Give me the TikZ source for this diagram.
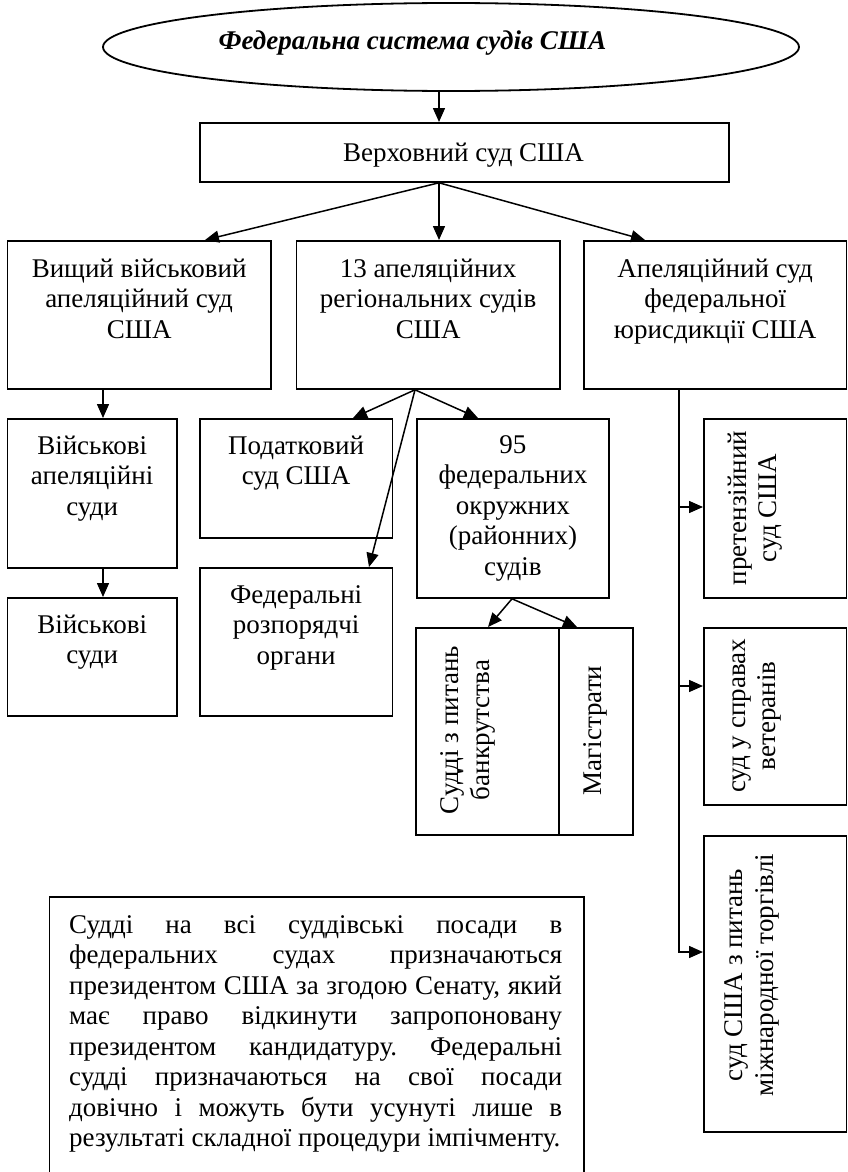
\documentclass[tikz,border=0pt]{standalone}
\usepackage{fontspec}
\setmainfont{Liberation Serif}
\usetikzlibrary{arrows.meta,shapes.geometric,calc}
\frenchspacing
\newcommand\bodysize{\fontsize{27}{30.5}\selectfont}
\newcommand\topstrut{\rule{0pt}{26pt}}
\newcommand\jline[1]{\makebox[493pt][s]{#1}}
\begin{document}
\begin{tikzpicture}[x=1pt,y=-1pt,
  box/.style={draw, line width=1.8pt, rectangle, inner sep=0pt, anchor=north west},
  link/.style={line width=1.5pt},
  arr/.style={link, -{Triangle[length=14pt,width=12pt]}},
  txt/.style={font=\bodysize, align=center, inner sep=0pt, anchor=north},
  vtxt/.style={font=\bodysize, align=center, inner sep=0pt, rotate=90},
]
\useasboundingbox (0,0) rectangle (847,1172);

% title
\node[draw, ellipse, line width=1.8pt, minimum width=696pt, minimum height=88pt, inner sep=0pt] (fed) at (451,47) {};
\node[font=\fontsize{27}{30.5}\selectfont\bfseries\itshape, anchor=base, inner sep=0pt] (fedtxt) at (412.5,50) {Федеральна система судів США};

% supreme court
\node[box, minimum width=529pt, minimum height=59pt] (sup) at (199,122) {};
\node[font=\bodysize, anchor=base, inner sep=0pt] (suptxt) at (463.5,161) {Верховний суд США};

% appellate level
\node[box, minimum width=263.5pt, minimum height=148pt] (A) at (6.5,240) {};
\node[box, minimum width=263.5pt, minimum height=148pt] (B) at (295.5,240) {};
\node[box, minimum width=262.5pt, minimum height=148pt] (C) at (583,240) {};
\node[txt] (Atxt) at ($(A.north)+(0,11)$) {\topstrut Вищий військовий\\апеляційний суд\\США};
\node[txt] (Btxt) at ($(B.north)+(0,11)$) {\topstrut 13 апеляційних\\регіональних судів\\США};
\node[txt] (Ctxt) at ($(C.north)+(0,11)$) {\topstrut Апеляційний суд\\федеральної\\юрисдикції США};

% military branch
\node[box, minimum width=169.5pt, minimum height=149pt] (A2) at (6.5,418) {};
\node[box, minimum width=169.5pt, minimum height=118pt] (A3) at (6.5,597) {};
\node[txt] (A2txt) at ($(A2.north)+(0,10)$) {\topstrut Військові\\апеляційні\\суди};
\node[txt] (A3txt) at ($(A3.north)+(0,10)$) {\topstrut Військові\\суди};

% regional branch
\node[box, minimum width=192.5pt, minimum height=119pt] (B2) at (199,418) {};
\node[box, minimum width=192.5pt, minimum height=148pt] (B3) at (199,567) {};
\node[box, minimum width=192pt, minimum height=179pt] (B4) at (416,418) {};
\node[txt] (B2txt) at ($(B2.north)+(0,10)$) {\topstrut Податковий\\суд США};
\node[txt] (B3txt) at ($(B3.north)+(0,10)$) {\topstrut Федеральні\\розпорядчі\\органи};
\node[txt] (B4txt) at ($(B4.north)+(0,9)$) {\topstrut 95\\федеральних\\окружних\\(районних)\\судів};

\node[box, minimum width=143pt, minimum height=207pt] (J) at (415,627) {};
\node[box, minimum width=74pt, minimum height=207pt] (M) at (558,627) {};
\node[vtxt] (Jtxt) at (468,730) {Судді з питань\\банкрутства};
\node[vtxt] (Mtxt) at (595,730.5) {Магістрати};

% federal jurisdiction branch
\node[box, minimum width=142.5pt, minimum height=179pt] (R1) at (703,418) {};
\node[box, minimum width=142.5pt, minimum height=177pt] (R2) at (703,627) {};
\node[box, minimum width=142.5pt, minimum height=296pt] (R3) at (703,835) {};
\node[vtxt] (R1txt) at (755,508) {претензійний\\суд США};
\node[vtxt] (R2txt) at (757,716) {суд у справах\\ветеранів};
\node[vtxt] (R3txt) at (752,975) {суд США з питань\\міжнародної торгівлі};

% note
\node[box, minimum width=534.5pt, minimum height=290pt] (T) at (48.5,896) {};
\node[font=\bodysize, align=left, inner sep=0pt, anchor=north west] (Ttxt) at ($(T.north west)+(20.5,11)$) {%
\topstrut\jline{Судді на всі суддівські посади в}\\
\jline{федеральних судах призначаються}\\
\jline{президентом США за згодою Сенату, який}\\
\jline{має право відкинути запропоновану}\\
\jline{президентом кандидатуру. Федеральні}\\
\jline{судді призначаються на свої посади}\\
\jline{довічно і можуть бути усунуті лише в}\\
результаті складної процедури імпічменту.};

% connection points
\coordinate (s0) at ($(sup.south west)+(240,0)$);
\coordinate (a0) at ($(A.south west)+(96.5,0)$);
\coordinate (s1) at ($(B.south west)+(119.5,0)$);
\coordinate (s2) at ($(B4.south west)+(96,0)$);
\coordinate (s3) at ($(C.south west)+(96,0)$);
\coordinate (r1) at ($(R1.north west)+(0,89)$);
\coordinate (r2) at ($(R2.north west)+(0,59)$);
\coordinate (r3) at ($(R3.north west)+(0,117)$);

% connectors
\draw[arr] (fed.south -| s0) -- (sup.north -| s0);
\draw[arr] (s0) -- ($(A.north west)+(198.5,0)$);
\draw[arr] (s0) -- (B.north -| s0);
\draw[arr] (s0) -- ($(C.north west)+(62,0)$);
\draw[arr] (a0) -- (A2.north -| a0);
\draw[arr] (A2.south -| a0) -- (A3.north -| a0);
\draw[arr] (s1) -- ($(B2.north west)+(154,0)$);
\draw[arr] (s1) -- ($(B4.north west)+(62,0)$);
\draw[arr] (s1) -- ($(B3.north west)+(170,0)$);
\draw[arr] (s2) -- ($(J.north west)+(73,0)$);
\draw[arr] (s2) -- ($(M.north west)+(19,0)$);
\draw[arr] (s3) |- (r3);
\draw[arr] (s3 |- r1) -- (r1);
\draw[arr] (s3 |- r2) -- (r2);
\end{tikzpicture}
\end{document}
